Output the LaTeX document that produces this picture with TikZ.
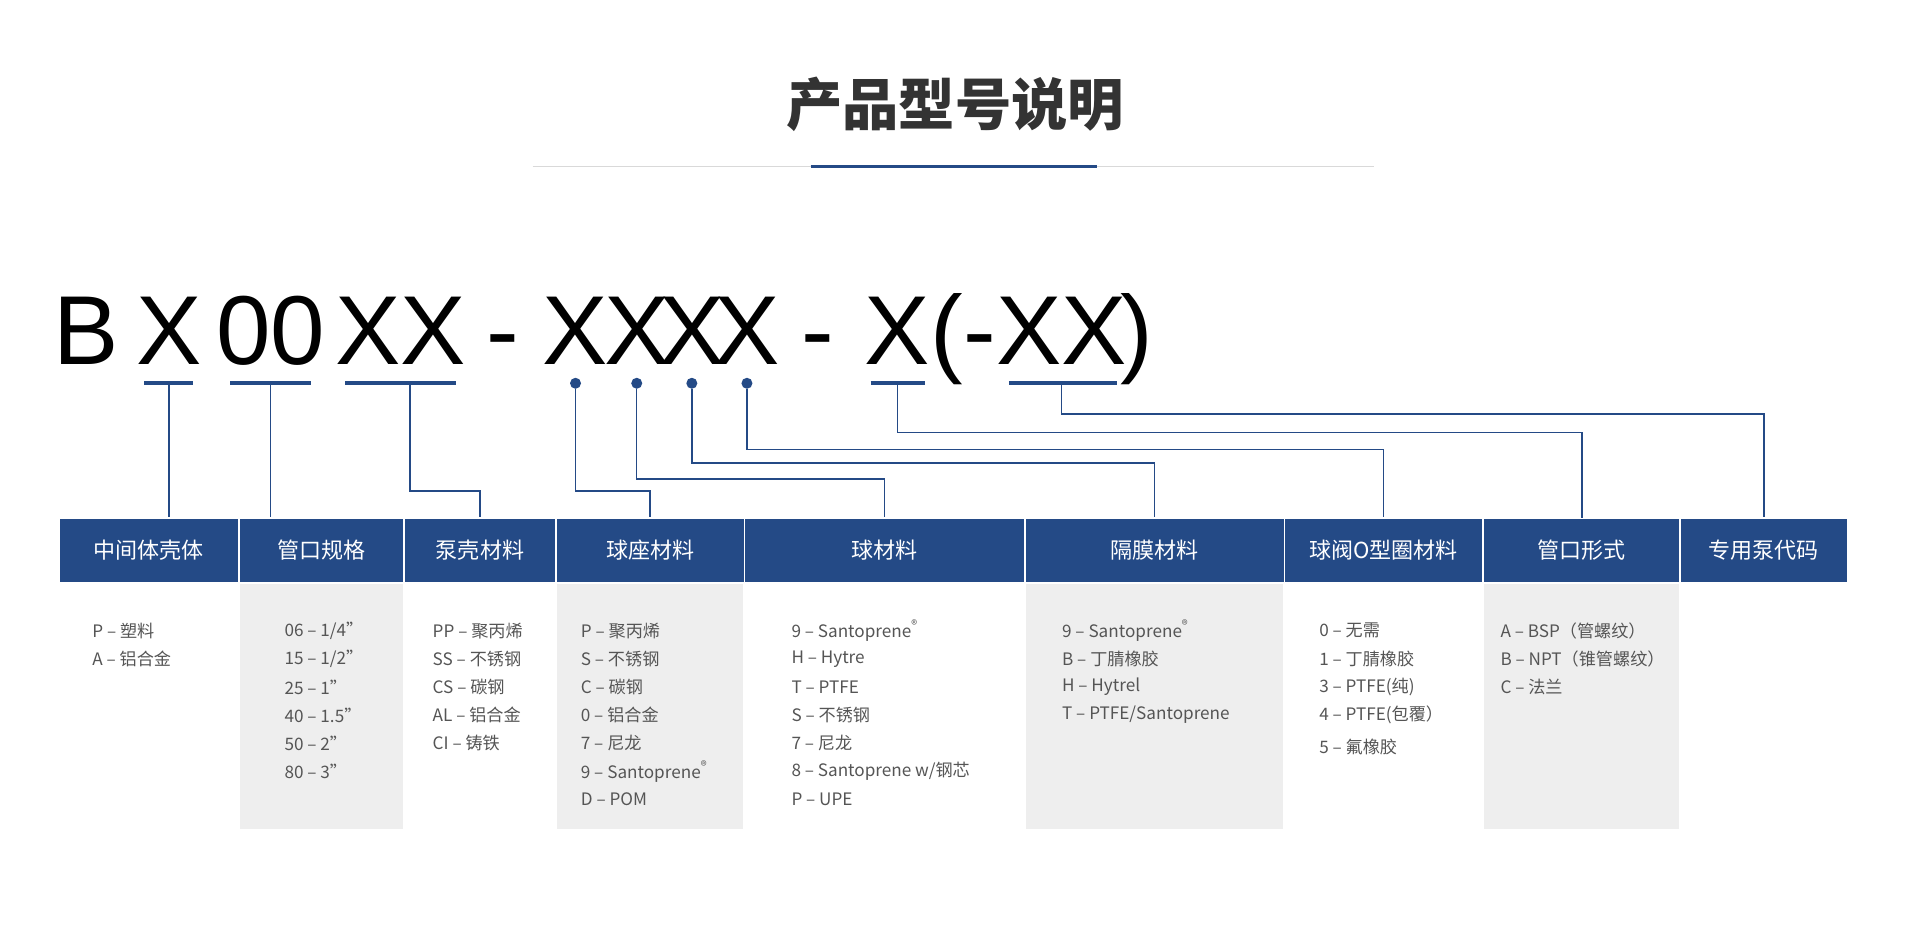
\documentclass[tikz,border=0pt]{standalone}
\usepackage{fontspec}
\setmainfont{Noto Sans CJK SC}
\newfontfamily\codefont{Liberation Sans}
\definecolor{navy}{HTML}{244A86}
\definecolor{lgray}{HTML}{EEEEEE}
\definecolor{txt}{HTML}{555555}
\begin{document}
\begin{tikzpicture}[x=0.5pt,y=-0.5pt,
  hdr/.style={fill=navy,draw=white,line width=0.6pt,text=white,font=\fontsize{9}{10}\selectfont,inner sep=0pt},
  col/.style={fill=lgray,draw=none},
  code/.style={font=\codefont\fontsize{40}{40}\selectfont,anchor=base,inner sep=0pt},
  item/.style={font=\fontsize{7}{8}\selectfont,text=txt,anchor=west,inner sep=0pt},
  ul/.style={navy,line width=1.6pt},
  ln/.style={navy,line width=0.6pt},
  dotn/.style={circle,fill=navy,inner sep=0pt,minimum size=4.5pt}]
\useasboundingbox (0,0) rectangle (1568,775);
\node[font=\fontsize{23}{24}\selectfont\bfseries,text=black!80] (title) at (780,85) {产品型号说明};
\draw[black!15,line width=0.6pt] (435,136) -- (1122,136);
\draw[navy,line width=1.2pt] (662,136) -- (896,136);
% code
\foreach \n/\x/\t in {cB/70/B,cX1/138/X,c00/221/00,cXX/327/XX,cd1/411/-,cA/470/X,cBq/520/X,cC/565/X,cD/610/X,cd2/668/-,cE/733/X,cp/773/(,cd3/800/-,cF/867/XX,cq/928/)}
  \node[code] (\n) at (\x,298) {\t};
% underlines
\coordinate (u1) at (138,313); \coordinate (u2) at (221,313); \coordinate (u3) at (335,313);
\coordinate (u4) at (733,313); \coordinate (u5) at (867,313);
\draw[ul] (118,313) -- (158,313); \draw[ul] (188,313) -- (254,313);
\draw[ul] (282,313) -- (372,313); \draw[ul] (711,313) -- (755,313);
\draw[ul] (824,313) -- (912,313);
\foreach \n/\x in {d1/470,d2/520,d3/565,d4/610} \node[dotn] (\n) at (\x,313) {};
% gray columns
\fill[lgray] (196,476) rectangle (329,677);
\fill[lgray] (455,476) rectangle (607,677);
\fill[lgray] (838,476) rectangle (1048,677);
\fill[lgray] (1212,476) rectangle (1371,677);
% headers
\foreach \n/\a/\b/\t in {h1/48/195/中间体壳体,h2/195/330/管口规格,h3/330/454/泵壳材料,h4/454/608/球座材料,h5/608/837/球材料,h6/837/1049/隔膜材料,h7/1049/1211/球阀O型圈材料,h8/1211/1372/管口形式,h9/1372/1509/专用泵代码}
  \node[hdr,minimum width={(\b-\a)*0.5pt},minimum height=26.5pt] (\n) at ({(\a+\b)/2},449.5) {\t};
% connectors
\draw[ln] (u1) -- (u1 |- h1.north);
\draw[ln] (u2) -- (u2 |- h2.north);
\draw[ln] (u3) -- (335,401) -| (h3.north);
\draw[ln] (d1) -- (470,401) -| (h4.north);
\draw[ln] (d2) -- (520,391) -| (h5.north);
\draw[ln] (d3) -- (565,378) -| (h6.north);
\draw[ln] (d4) -- (610,367) -| (h7.north);
\draw[ln] (u4) -- (733,353) -| (1292,423);
\draw[ln] (u5) -- (867,338) -| (h9.north);
% lists
\def\L#1#2#3#4{\node[item] (#1) at (#2,#3) {#4};}
\L{a1}{75}{515}{P – 塑料}\L{a2}{75}{538}{A – 铝合金}
\L{b1}{232}{515}{06 – 1/4"}\L{b2}{232}{538}{15 – 1/2"}\L{b3}{232}{561}{25 – 1"}
\L{b4}{232}{584}{40 – 1.5"}\L{b5}{232}{607}{50 – 2"}\L{b6}{232}{630}{80 – 3"}
\L{c1}{353}{515}{PP – 聚丙烯}\L{c2}{353}{538}{SS – 不锈钢}\L{c3}{353}{561}{CS – 碳钢}
\L{c4}{353}{584}{AL – 铝合金}\L{c5}{353}{607}{CI – 铸铁}
\L{e1}{474}{515}{P – 聚丙烯}\L{e2}{474}{538}{S – 不锈钢}\L{e3}{474}{561}{C – 碳钢}
\L{e4}{474}{584}{0 – 铝合金}\L{e5}{474}{607}{7 – 尼龙}\L{e6}{474}{630}{9 – Santoprene\textsuperscript{®}}
\L{e7}{474}{653}{D – POM}
\L{f1}{646}{515}{9 – Santoprene\textsuperscript{®}}\L{f2}{646}{538}{H – Hytre}\L{f3}{646}{561}{T – PTFE}
\L{f4}{646}{584}{S – 不锈钢}\L{f5}{646}{607}{7 – 尼龙}\L{f6}{646}{630}{8 – Santoprene w/钢芯}
\L{f7}{646}{653}{P – UPE}
\L{g1}{867}{515}{9 – Santoprene\textsuperscript{®}}\L{g2}{867}{538}{B – 丁腈橡胶}
\L{g3}{867}{561}{H – Hytrel}\L{g4}{867}{584}{T – PTFE/Santoprene}
\L{k1}{1077}{515}{0 – 无需}\L{k2}{1077}{538}{1 – 丁腈橡胶}\L{k3}{1077}{561}{3 – PTFE(纯)}
\L{k4}{1077}{584}{4 – PTFE(包覆）}\L{k5}{1077}{610}{5 – 氟橡胶}
\L{m1}{1225}{515}{A – BSP（管螺纹）}\L{m2}{1225}{538}{B – NPT（锥管螺纹）}\L{m3}{1225}{561}{C – 法兰}
\end{tikzpicture}
\end{document}
